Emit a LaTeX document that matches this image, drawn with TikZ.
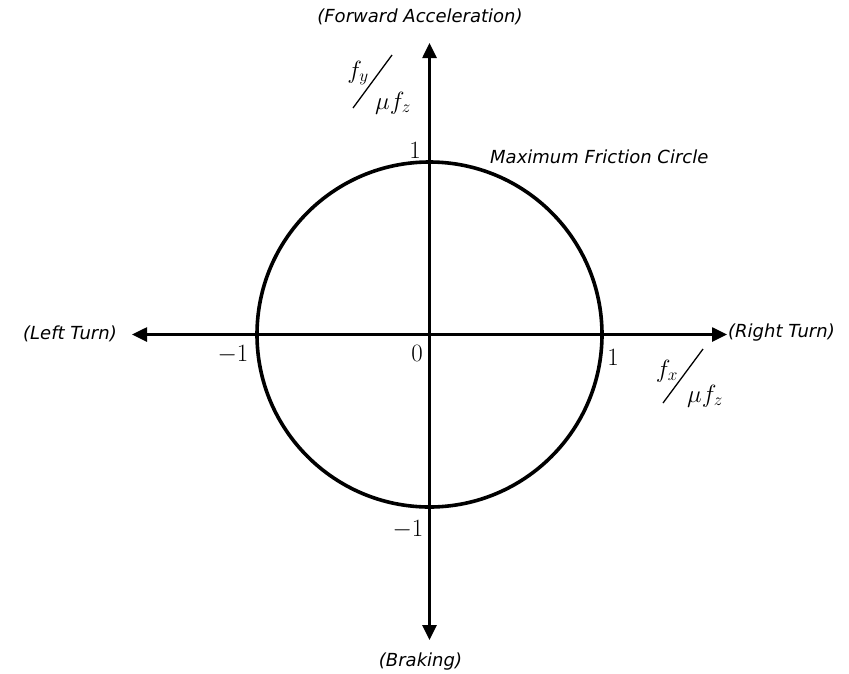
\documentclass[tikz,border=0pt]{standalone}
\usepackage{fontspec}
\usetikzlibrary{arrows.meta}
\newfontfamily\lblfont{DejaVu Sans}
\begin{document}
\begin{tikzpicture}[x=1pt,y=-1pt,
  axis/.style={line width=2.6pt, {Triangle[length=15pt,width=14pt]}-{Triangle[length=15pt,width=14pt]}},
  lbl/.style={inner sep=0pt, font=\lblfont\itshape\fontsize{18}{21}\selectfont},
  num/.style={inner sep=0pt, font=\fontsize{24}{28}\selectfont},
  mth/.style={inner sep=0pt, font=\fontsize{26}{30}\selectfont},
  slash/.style={line width=1.3pt}]
\useasboundingbox (0,0) rectangle (849,673);
\coordinate (O) at (429.5,334.5);
\coordinate (T) at (429.5,43);
\coordinate (B) at (429.5,640);
\coordinate (L) at (132,334.5);
\coordinate (R) at (727,334.5);
\draw[axis] (L) -- (R);
\draw[axis] (B) -- (T);
\node[circle, draw, line width=3.6pt, minimum size=345pt, inner sep=0pt] (fc) at (O) {};
% text labels
\node[lbl] (fwd) at (420,17) {(Forward Acceleration)};
\node[lbl, anchor=west] (mfc) at (490,157) {Maximum Friction Circle};
\node[lbl, anchor=east] (lt) at (117,334) {(Left Turn)};
\node[lbl, anchor=west] (rt) at (728,333) {(Right Turn)};
\node[lbl] (brk) at (420.5,662) {(Braking)};
% numbers
\node[num] (n1t) at (415,150) {$1$};
\node[num] (nm1l) at (233,355) {$-1$};
\node[num] (n0) at (417,353) {$0$};
\node[num] (n1r) at (613,357) {$1$};
\node[num] (nm1b) at (408,530) {$-1$};
% fractions
\node[mth] (fy) at (358,73) {$f_y$};
\node[mth] (muz1) at (393,103) {$\mu f_z$};
\coordinate (s1a) at (353,108);
\coordinate (s1b) at (392,55);
\draw[slash] (s1a) -- (s1b);
\node[mth] (fx) at (667,371) {$f_x$};
\node[mth] (muz2) at (705,396) {$\mu f_z$};
\coordinate (s2a) at (663,403);
\coordinate (s2b) at (703,349);
\draw[slash] (s2a) -- (s2b);
\end{tikzpicture}
\end{document}
